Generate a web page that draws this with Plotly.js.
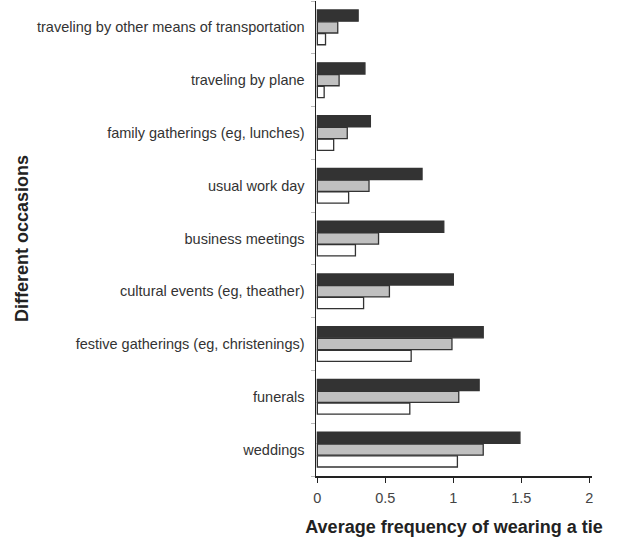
<!DOCTYPE html>
<html><head><meta charset="utf-8">
<script src="https://cdn.plot.ly/plotly-3.0.1.min.js"></script>
<style>html,body{margin:0;padding:0;background:#fff}</style>
</head><body><div id="chart" style="width:619px;height:541px"></div>
<script>
const occasions = ["weddings","funerals","festive gatherings (eg, christenings)","cultural events (eg, theather)","business meetings","usual work day","family gatherings (eg, lunches)","traveling by plane","traveling by other means of transportation"];
const seriesDark  = [1.49, 1.19, 1.22, 1.00, 0.93, 0.77, 0.39, 0.35, 0.30];
const seriesGray  = [1.22, 1.04, 0.99, 0.53, 0.45, 0.38, 0.22, 0.16, 0.15];
const seriesWhite = [1.03, 0.68, 0.69, 0.34, 0.28, 0.23, 0.12, 0.05, 0.06];
const xTicks = [0, 0.5, 1, 1.5, 2];
const xTickText = ["0", "0.5", "1", "1.5", "2"];

const line = {color: "#333333", width: 1.3};
const traces = [
  {name: "white", x: seriesWhite, y: occasions, type: "bar", orientation: "h", marker: {color: "#ffffff", line: line}},
  {name: "gray",  x: seriesGray,  y: occasions, type: "bar", orientation: "h", marker: {color: "#c0c0c0", line: line}},
  {name: "dark",  x: seriesDark,  y: occasions, type: "bar", orientation: "h", marker: {color: "#333333", line: line}}
];
const font = {family: "Liberation Sans, Arial, sans-serif", color: "#333", size: 14.5};
const layout = {
  width: 619, height: 541,
  margin: {l: 316, r: 27, t: 1, b: 65},
  barmode: "group", bargap: 0.33, bargroupgap: 0.05,
  showlegend: false,
  paper_bgcolor: "#fff", plot_bgcolor: "#fff",
  font: font,
  xaxis: {
    range: [-0.01, 2.02], tickvals: xTicks, ticktext: xTickText,
    showgrid: false, zeroline: false, showline: true, linecolor: "#222", linewidth: 1.5,
    ticks: "outside", ticklen: 5, tickwidth: 1.5, tickcolor: "#222",
    ticklabelstandoff: 3,
    tickfont: {size: 14.5, color: "#444"},
    title: {text: "<b>Average frequency of wearing a tie</b>", font: {size: 18, color: "#222"}, standoff: 15}
  },
  yaxis: {
    type: "category", range: [-0.5, 8.5],
    showgrid: false, zeroline: false, showline: true, linecolor: "#222", linewidth: 1.5,
    ticks: "outside", tickson: "boundaries", ticklen: 4, tickwidth: 1, tickcolor: "#bbb",
    ticklabelstandoff: 7,
    tickfont: {size: 14.5, color: "#333"},
    title: {text: "<b>Different occasions</b>", font: {size: 18, color: "#222"}, standoff: 3}
  }
};
Plotly.newPlot("chart", traces, layout, {displayModeBar: false, staticPlot: true});
</script></body></html>
